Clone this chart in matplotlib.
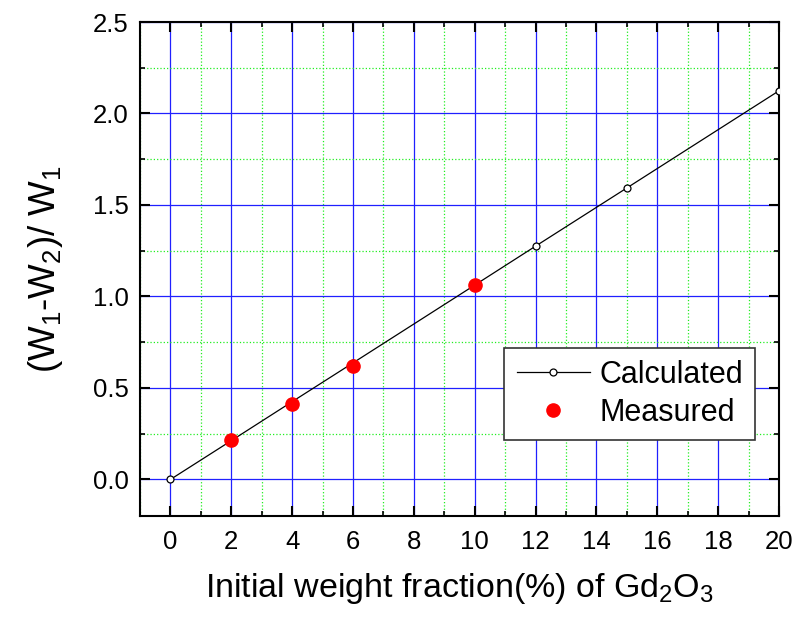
import matplotlib
matplotlib.use("Agg")
import matplotlib.pyplot as plt
from matplotlib.ticker import MultipleLocator

plt.rcParams["font.family"] = ["Liberation Sans", "DejaVu Sans"]
plt.rcParams["mathtext.fontset"] = "custom"
plt.rcParams["mathtext.rm"] = "Liberation Sans"
plt.rcParams["mathtext.it"] = "Liberation Sans"

# Calculated curve
calc_x = [0, 2, 4, 6, 10, 12, 15, 20]
calc_y = [0.0, 0.212, 0.425, 0.637, 1.062, 1.275, 1.593, 2.124]

# Measured points
meas_x = [2, 4, 6, 10]
meas_y = [0.218, 0.414, 0.618, 1.06]

fig = plt.figure(figsize=(7.97, 6.2), dpi=100)
ax = fig.add_axes([0.1757, 0.1677, 0.8017, 0.7968])

# grid: major solid blue, minor dotted green
ax.xaxis.set_major_locator(MultipleLocator(2))
ax.xaxis.set_minor_locator(MultipleLocator(1))
ax.yaxis.set_major_locator(MultipleLocator(0.5))
ax.yaxis.set_minor_locator(MultipleLocator(0.25))
ax.grid(which="major", color="#2020ff", linestyle="-", linewidth=0.9)
ax.grid(which="minor", color="#22ee22", linestyle=":", linewidth=0.9)
ax.set_axisbelow(True)

ax.plot(calc_x, calc_y, color="black", linewidth=0.9, marker="o",
        markersize=5, markerfacecolor="white", markeredgecolor="black",
        markeredgewidth=0.9, label="Calculated", zorder=3)
ax.plot(meas_x, meas_y, linestyle="none", marker="o", markersize=9.5,
        color="#ff0000", label="Measured", zorder=4)

ax.set_xlim(-1, 20)
ax.set_ylim(-0.2, 2.5)
ax.set_xticks([0, 2, 4, 6, 8, 10, 12, 14, 16, 18, 20])
ax.set_yticks([0.0, 0.5, 1.0, 1.5, 2.0, 2.5])
ax.set_yticklabels(["0.0", "0.5", "1.0", "1.5", "2.0", "2.5"])

for spine in ax.spines.values():
    spine.set_linewidth(1.5)
ax.tick_params(which="both", direction="in", top=True, right=True, labelsize=18.5)
ax.tick_params(which="major", length=7.2, width=1.5)
ax.tick_params(which="minor", length=3.6, width=1.2)
ax.tick_params(axis="x", pad=10)
ax.tick_params(axis="y", pad=8)

ax.set_xlabel("Initial weight fraction(%) of Gd$_2$O$_3$", fontsize=24.5, labelpad=12)
ax.set_ylabel("(W$_1$-W$_2$)/ W$_1$", fontsize=26.5, labelpad=20)

leg = ax.legend(loc="lower right", bbox_to_anchor=(0.9624, 0.1538),
                borderaxespad=0, fontsize=22, fancybox=False, framealpha=1,
                edgecolor="#333333", handlelength=2.4, handletextpad=0.3,
                borderpad=0.4, labelspacing=0.25)
leg.get_frame().set_linewidth(1.2)

fig.savefig("out.png", dpi=100)
